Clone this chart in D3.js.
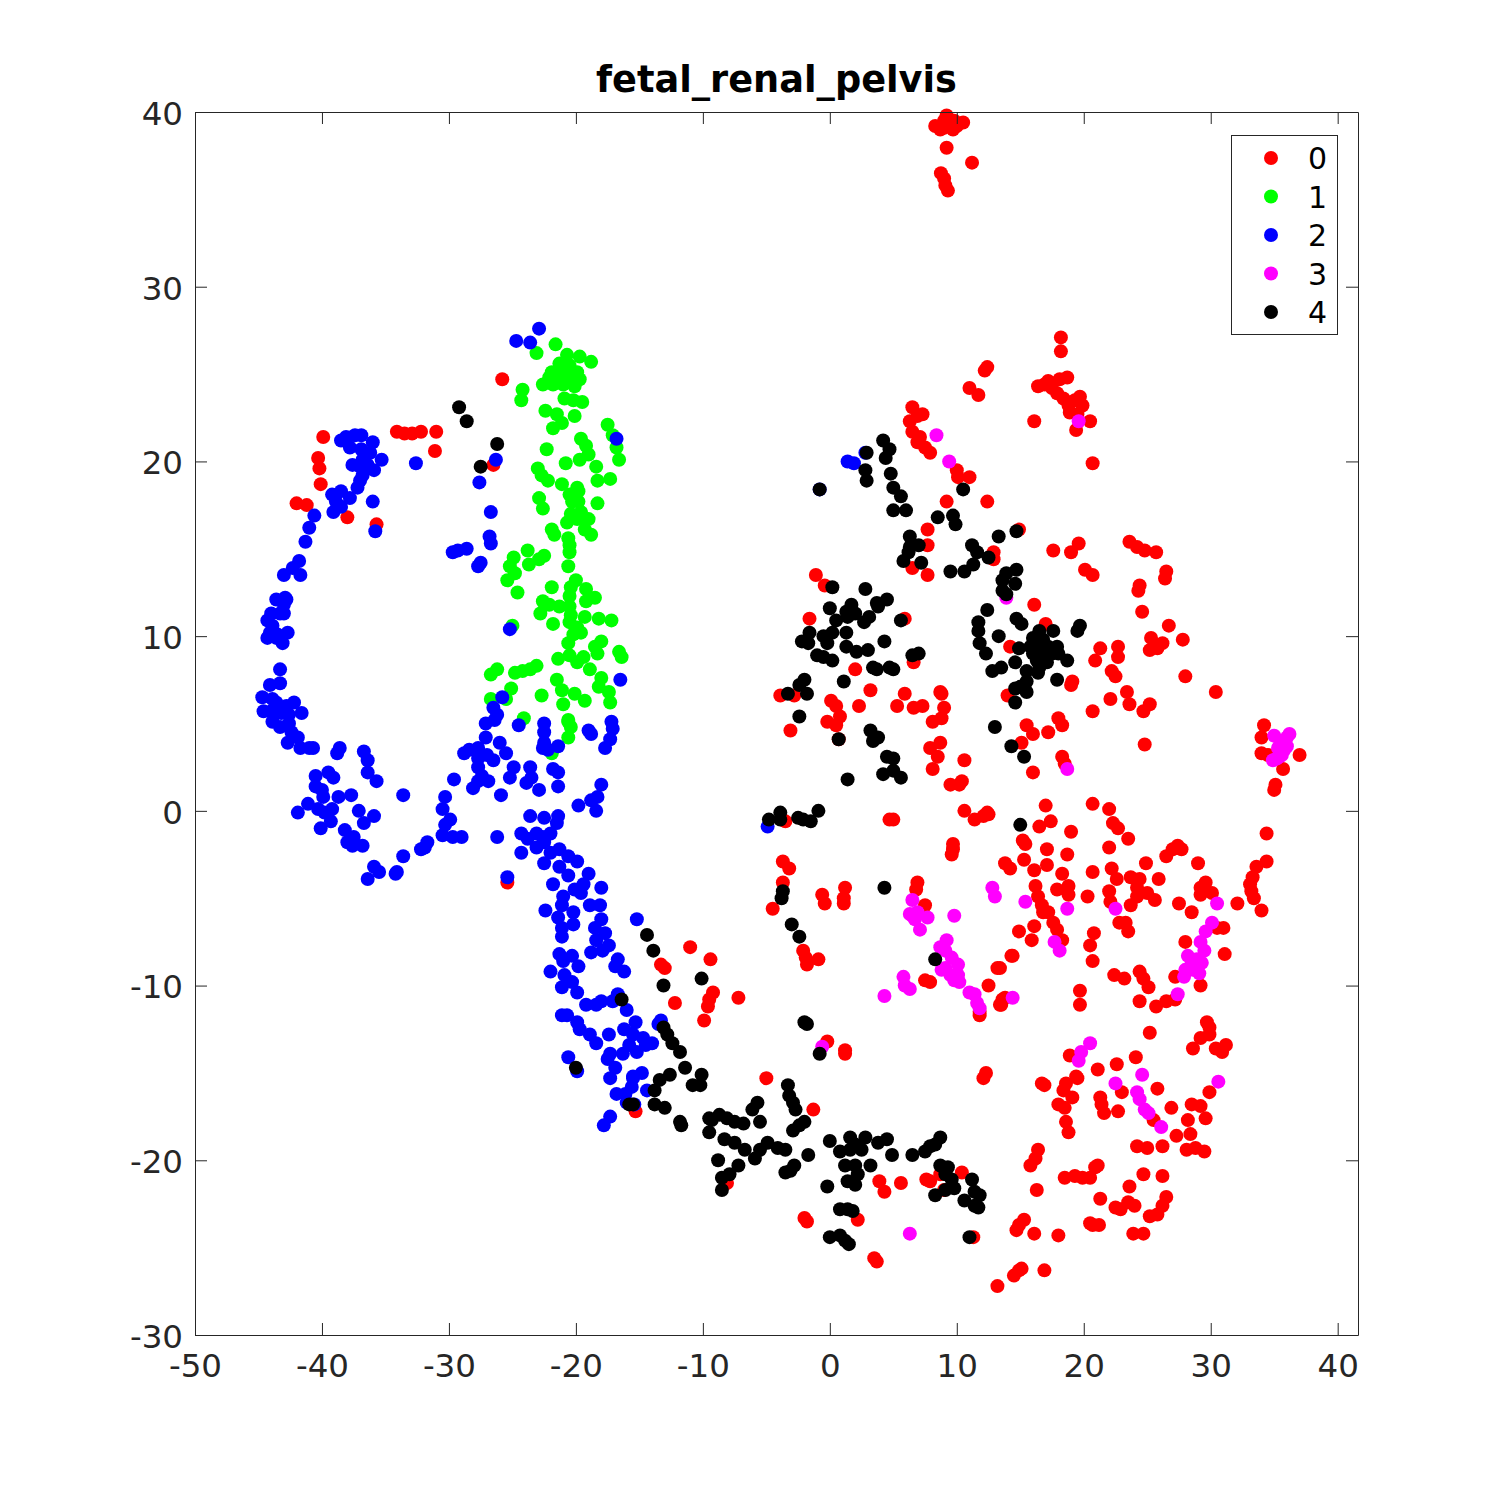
<!DOCTYPE html>
<html><head><meta charset="utf-8">
<script src="https://cdn.jsdelivr.net/npm/d3@7/dist/d3.min.js"></script>
<style>html,body{margin:0;padding:0;background:#fff}svg{display:block}</style>
</head><body><svg id="c" width="1500" height="1500"></svg>
<script>
const chartTitle = "fetal_renal_pelvis";
const xTicks = [-50,-40,-30,-20,-10,0,10,20,30,40];
const yTicks = [-30,-20,-10,0,10,20,30,40];
const xDomain = [-50,41.6];
const yDomain = [-30,40];
const labels = ["0","1","2","3","4"];
const colors = ["#ff0000","#00ff00","#0000ff","#ff00ff","#000000"];
const cluster0 = [[-25.8,24.7],[-39.9,21.4],[-40.3,20.2],[-40.2,19.6],[-40.1,18.7],[-42,17.6],[-41.2,17.5],[-38,16.8],[-35.7,16.4],[-34.1,21.7],[-33.5,21.6],[-32.9,21.6],[-32.2,21.7],[-31,21.7],[-31.1,20.6],[-26.5,19.8],[-25.4,-4.1],
[8.3,39.2],[8.7,39],[9,39.5],[9.2,39.8],[9.5,39.3],[9.8,39.5],[10.5,39.4],[9,39.1],[9.7,39],[10,39.2],[9.2,37.95],[11.2,37.1],[8.75,36.5],[9,36.2],[9.1,35.8],[9.3,35.5],
[12.4,25.4],[12.2,25.2],[11,24.2],[11.7,23.8],[18.2,27.1],[18.2,26.3],[18.7,24.8],[18.1,24.7],[17.2,24.6],[16.4,24.3],[16.9,24.4],[17.5,24.2],[17.9,23.9],[18.4,23.6],[18.8,23.2],[19.3,23.5],[19.7,23.7],[19.9,23.2],[18.9,22.8],[19.5,22.7],[16.1,22.3],[20.5,22.3],[19.4,21.8],[20.7,19.9],
[6.5,23.1],[7.3,22.7],[6.3,22.3],[6.9,22.6],[6.5,21.7],[7.1,21.4],[6.9,21.1],[7.5,20.8],[7.9,20.5],[10,19.5],[10.1,19.1],[11,19.1],[9.2,17.7],[12.4,17.7],[7.7,16.1],[7.7,15.2],[6.5,13.9],[7.7,13.5],[14.9,16.1],[12.9,14.8],[12.9,14.4],[17.6,14.9],[19.6,15.3],[19,14.8],[20.1,13.8],[20.7,13.5],[-1.1,13.5],[-0.4,12.9],[16.1,11.8],[17,10.7],[5.9,11],[-1.6,11],[14.2,9.4],[21.3,9.3],[20.9,8.6],[6.6,8.5],[2,8.1],[19.1,7.4],[19,7.2],[14,6.6],[-3.9,6.6],[-2.8,6.6],[3.2,6.9],[5.9,6.7],[8.7,6.8],[8.8,6.7],[5.3,6],[2.3,6],[6.6,5.9],[7.3,6],[9,5.9],[0.1,6.3],[0.5,6],[0.8,5.4],[8.1,5.1],[8.8,5.3],[-0.2,5.1],[0.5,4.9],[-3.1,4.6],[0.7,4.1],[7.9,3.6],[8.7,3.9],[8.5,3.1],[10.6,2.9],[8.1,2.4],[9.5,1.5],[10.2,1.5],[10.4,1.7],[15.5,4.9],[16,4.4],[15.1,3.9],[17.2,4.5],[18,5.3],[18.3,4.9],[18.3,3.1],[18.5,2.7],[16,2.2],[20.7,5.7],[17,0.3],[20.7,0.4],[10.6,0],[12.4,-0.1],
[23.6,15.4],[24.2,15.1],[24.8,14.9],[25.7,14.8],[24.4,12.9],[24.3,12.6],[24.6,11.4],[26.5,13.7],[26.4,13.3],[26.7,10.6],[27.8,9.8],[25.3,9.9],[25.2,9.2],[25.8,9.3],[26.2,9.6],[28,7.7],[30.4,6.8],[22.7,9.4],[22.7,8.8],[22.2,8],[22.5,7.7],[23.4,6.8],[23.6,6.1],[22.1,6.4],[25.2,6.1],[24.7,5.7],[24.8,3.8],
[34.2,4.9],[34,4.2],[34,3.3],[34.5,3.2],[37,3.2],[35.7,2.4],[35.1,1.5],[35,1.2],
[22,0.1],[17.4,-0.6],[16.5,-0.9],[22.3,-0.7],[22.7,-1],[23.5,-1.6],[19,-1.2],[15.2,-1.7],[15.4,-1.9],[22,-2.1],[17.1,-2.2],[18.7,-2.5],[15.3,-2.8],[17.1,-3.1],[13.8,-3],[14.2,-3.3],[16.1,-3.4],[18.3,-3.6],[20.7,-3.5],[22.2,-3.3],[22.6,-3.9],[23.7,-3.8],[24.4,-3.9],[24.9,-3],[25.9,-3.9],[26.5,-2.6],[27,-2.2],[27.4,-2],[27.7,-2.2],[29,-3],[34.4,-1.3],[34.4,-2.9],[33.6,-3.2],[33.3,-3.8],[33.1,-4.2],[33.2,-4.6],[33.4,-5],[32.1,-5.3],[34,-5.7],[29.6,-4.1],[29.2,-4.8],[29.2,-4.4],[30.1,-4.7],[27.5,-5.3],[28.5,-5.8],[16.2,-4.3],[17.9,-4.5],[18.8,-4.3],[18.8,-4.8],[20.3,-4.9],[22,-4.6],[22.1,-5.2],[16.4,-4.9],[16.7,-5.4],[16.8,-5.8],[17.2,-5.8],[17.6,-6.4],[17.9,-6.8],[24.2,-4.4],[25,-4.7],[25.6,-5.1],[24.2,-4.9],[23.7,-5.4],[16.1,-6.6],[14.9,-6.9],[15.9,-7.4],[18.3,-7.4],[22.8,-6.4],[23.3,-6.4],[23.5,-6.9],[20.8,-7],[20.5,-7.7],[20.7,-8.6],[14.4,-8.3],[13.4,-9],[31,-6.7],[30.5,-6.7],[28,-7.5],[31.1,-8.2],[22.4,-9.4],[23.2,-9.6],[24.4,-9.2],[24.7,-9.6],[25.1,-10.1],[27.2,-9.5],[29.2,-10],[19.7,-10.3],[19.7,-11.1],[24.4,-10.9],[25.7,-11.2],[26.5,-10.9],[27.2,-10.8],[13.8,-10.7],[13.5,-11.1],[29.7,-12.1],[29.9,-12.4],[29.9,-12.8],[29.2,-13],[28.6,-13.6],[25.2,-12.7],[30.4,-13.6],[31.2,-13.4],[30.9,-13.8],[24.1,-14.1],[22.6,-14.5],[21.1,-14.8],[18.9,-14],[19.4,-15.2],[16.7,-15.6],[16.9,-15.7],[19.5,-15.3],[18.6,-15.6],[18.4,-16],[19.1,-16.4],[18,-16.8],[18.5,-17],[18.6,-17.8],[18.8,-18.4],[21.3,-16.4],[21.4,-16.8],[21.6,-17.3],[23,-16.1],[22.7,-17.2],[25.8,-15.9],[25.5,-17.7],[26.9,-17],[24.2,-19.2],[25,-19.3],[26.2,-19.2],[27.3,-18.6],[28.5,-16.8],[29.2,-16.9],[28.4,-18.5],[28.1,-19.4],[28.8,-19.3],[29.5,-19.5],[28.2,-17.7],[29.6,-17.6],[29.9,-16.1],[16.4,-19.4],[16.2,-19.9],[15.8,-20.3],[16.3,-21.7],[18.5,-21],[19.3,-20.9],[19.9,-21],[20.9,-20.4],[21.1,-20.3],[20.5,-21],[21.3,-22.2],[24.7,-20.8],[26.2,-20.9],[23.6,-21.5],[23.5,-22.4],[22.5,-22.7],[22.9,-22.8],[24,-22.6],[26.5,-22.1],[26.2,-22.6],[25.8,-23.1],[25.2,-23.2],[23.9,-24.2],[24.7,-24.2],[15.3,-23.4],[14.9,-23.7],[14.7,-24],[16.1,-24.2],[18,-24.3],[20.5,-23.6],[20.7,-23.7],[21.2,-23.7],[14.5,-26.6],[14.9,-26.3],[15.1,-26.2],[16.9,-26.3],[13.2,-27.2],
[12.3,-15],[12.1,-15.3],[-2,-23.3],[-1.8,-23.5],[2.2,-23.4],[3.5,-25.6],[3.7,-25.8],[3.9,-21.2],[4.3,-21.8],[5.6,-21.3],[7.6,-21.1],[7.9,-21.2],[8.7,-20.8],[10.4,-20.7],[9,-21.7],[11.3,-24.4],[-8.1,-21.3],[-1.3,-17.1],[1.2,-13.7],[1.2,-13.9],[-0.2,-13.2],[-5,-15.3],[-15.3,-17.2],[-7.2,-10.7],[-11,-7.8],[-9.4,-8.5],[-9.2,-10.4],[-9.5,-10.8],[-9.6,-11.2],[-9.9,-12],[-13.3,-8.8],[-13,-9],[-12.2,-11],
[-2.1,-8],[-1.9,-8.4],[-1.8,-8.8],[-0.9,-8.5],[-4.5,-5.6],[-3.7,-4.1],[-3.7,-2.9],[-3.2,-3.3],[-0.6,-4.8],[-0.4,-5.3],[1.2,-4.4],[1.1,-5.3],[1.1,-5],[-3.5,-0.6],[4.7,-0.5],[5,-0.5],[6.9,-4.1],[6.8,-4.5],[7.5,-5.4],[9.7,-1.9],[9.6,-2.5],[9.7,-2.2],[11.4,-0.5],[12.1,-0.3],[12.5,-0.2],[7.5,-9.7],[7.9,-9.8],[11.8,-11.5],[11.8,-11.7],[13.2,-9],[12.5,-10],[13.4,-11.1],[13.6,-10.8],[14.3,-8.3]];
const cluster1 = [[-21.6,26.7],[-23.1,26.2],[-20.7,26.1],[-19.7,26],[-18.8,25.7],[-21.3,25.6],[-20.5,25.5],[-21.9,25.1],[-21,25.1],[-19.9,25.1],[-22.1,24.8],[-21.4,24.8],[-20.6,24.8],[-19.7,24.7],[-22.6,24.4],[-21.8,24.4],[-21,24.4],[-20.1,24.3],[-24.2,24.1],[-24.3,23.5],[-20.9,23.6],[-20.2,23.5],[-19.5,23.4],[-22.4,22.9],[-21.5,22.7],[-20.1,22.6],[-21.1,22.2],[-21.8,21.9],[-17.5,22.1],[-17.1,21.5],[-19.6,21.3],[-19.2,20.9],[-19,20.4],[-22.3,20.7],[-19.7,20.1],[-16.8,20.8],[-16.6,20.1],[-20.8,19.9],[-23,19.6],[-18.4,19.7],[-22.7,19.2],[-22.2,18.9],[-18.3,18.9],[-17.3,19],[-21.1,18.7],[-19.9,18.5],[-20.5,18.1],[-19.8,18.3],[-20.3,17.7],[-19.8,17.7],[-22.9,17.9],[-22.6,17.3],[-18.3,17.6],[-20.4,17],[-19.6,17.1],[-19,16.7],[-20.7,16.5],[-19.9,16.7],[-19.3,16.1],[-18.8,15.8],[-21.9,16.1],[-21.7,15.8],[-20.6,15.6],[-20.5,15.2],[-20.5,14.8],[-20.6,14],[-23.8,14.9],[-22.5,14.6],[-22.9,14.4],[-24.9,14.5],[-23.7,14.1],[-25.2,14],[-24.8,13.6],[-25.4,13.2],[-24.6,12.5],[-20,13.2],[-20.4,12.8],[-21.9,12.8],[-19.2,12.7],[-20.5,12.3],[-18.5,12.2],[-19.2,12],[-22.6,12],[-22.1,11.8],[-21.3,11.7],[-22.8,11.3],[-20.5,11.7],[-20.4,11.2],[-20.5,10.8],[-19.3,11.1],[-18.2,11],[-17.2,10.9],[-21.8,10.7],[-19.9,10.5],[-19.6,10.2],[-20.2,10.1],[-20.6,9.6],[-18,9.7],[-18.5,9.4],[-16.6,9.1],[-18.3,9],[-16.4,8.8],[-20.5,8.9],[-19.4,8.8],[-21.4,8.7],[-19.9,8.5],[-18.9,8.1],[-23.1,8.3],[-23.6,8.1],[-24.2,8],[-24.8,7.9],[-26.2,8.1],[-26.7,7.8],[-21.5,7.5],[-18,7.6],[-18.2,7.1],[-21.1,6.9],[-20.1,6.7],[-25.1,7],[-17.4,6.8],[-17.3,6.2],[-22.7,6.6],[-19.3,6.3],[-21,6.1],[-26.7,6.4],[-25.5,6.4],[-24.1,5.3],[-20.6,5.2],[-20.6,5.1],[-20.4,4.8],[-20.6,4.2],[-21.9,3.3],[-25,10.6]];
const cluster2 = [[-22.9,27.6],[-24.7,26.9],[-23.6,26.8],[-16.8,21.3],[-38.5,21.2],[-38.1,21.4],[-37.4,21.5],[-36.9,21.5],[-37.8,20.8],[-36,21.1],[-36.9,20.7],[-36.2,20.5],[-35.3,20.1],[-37.6,19.8],[-36.8,20.1],[-37,19.7],[-35.9,19.5],[-36.4,19.8],[-36.8,19.2],[-37,18.9],[-37.2,18.5],[-32.6,19.9],[-36,17.7],[-38.5,18.3],[-39.2,18.1],[-37.8,17.9],[-38.9,17.7],[-38.5,17.4],[-39.1,17.1],[-35.8,16],[-40.6,16.9],[-41,16.2],[-41.3,15.4],[-41.8,14.3],[-43,13.5],[-41.7,13.5],[-42.3,13.9],[-43.6,12.1],[-42.9,12.2],[-42.8,12.1],[-43,11.8],[-43.3,11.3],[-44,11.3],[-43,11.3],[-44.3,10.9],[-43.9,10.6],[-44.1,10.2],[-44.3,9.9],[-43.5,10.1],[-42.7,10.2],[-43.1,9.6],[-43.6,9.9],[-43.3,8.1],[-44.1,7.2],[-43.3,7.3],[-44.7,6.5],[-43.9,6.4],[-43.6,6.2],[-42.2,6.2],[-42.8,6],[-44.6,5.7],[-44,5.7],[-41.6,5.6],[-42.6,5.5],[-43.2,5.6],[-43.9,5.1],[-42.6,5],[-43.3,4.8],[-25.8,6.5],[-26.5,5.9],[-26.2,5.5],[-27.1,5],[-26.4,5.2],[-24.5,4.9],[-22.5,5],[-17.2,5.1],[-19,4.6],[-16.5,7.5],
[-26.3,20.1],[-27.6,18.8],[-26.7,17.1],[-26.8,15.7],[-26.7,15.3],[-29.7,14.8],[-29.3,14.9],[-28.6,15],[-27.5,14.2],[-27.7,14],[-25.2,10.4],
[-42.4,4.5],[-41.9,4.2],[-42.7,3.9],[-41.7,3.6],[-40.7,3.6],[-41,3.6],[-38.6,3.6],[-38.8,3.3],[-36.7,3.4],[-36.4,2.9],[-36.4,2.2],[-35.7,1.7],[-40.5,2],[-39.5,2.2],[-39.1,1.9],[-40.5,1.4],[-40,1.2],[-39.9,0.8],[-38.7,0.8],[-37.7,0.9],[-33.6,0.9],[-41.1,0.4],[-41.9,-0.1],[-40.3,0.1],[-39.2,0.1],[-39.8,-0.1],[-39.3,-0.6],[-40.1,-1],[-37.1,0],[-35.9,-0.3],[-36.7,-0.7],[-38.2,-1.1],[-37.5,-1.5],[-38,-1.8],[-37.6,-2],[-36.8,-2],[-35.9,-3.2],[-35.5,-3.5],[-34.2,-3.6],[-34.1,-3.5],[-36.4,-3.9],[-33.6,-2.6],[-31.7,-1.8],[-31.9,-2.1],[-32.2,-2.2],[-30.5,-1.4],[-29.7,-1.5],[-29,-1.5],[-30.3,-0.8],[-29.9,-0.5],[-30.5,0.1],[-30.3,0.8],[-29.6,1.8],[-28.1,1.3],[-27.7,1.7],[-26.9,1.7],[-25.9,0.9],[-25.2,1.9],[-24.9,2.5],[-23.9,1.6],[-23.6,2.5],[-23.5,1.9],[-22.9,1.2],[-21.8,2.4],[-21.4,2.2],[-21.4,1.4],[-18,1.5],[-18.3,0.8],[-18.8,0.6],[-19.8,0.3],[-18.4,0],[-27.7,3],[-28.8,3.3],[-28.4,3.5],[-27.7,3.6],[-27,3.2],[-26.5,2.9],[-27.7,2.5],[-27.4,2],[-27.1,4.2],[-26,3.9],[-25.5,3.3],[-22.5,4.5],[-22.5,3.9],[-22.6,3.6],[-22.2,3.5],[-21.4,3.7],[-17.1,4.7],[-18.8,4.4],[-17.3,4.1],[-17.7,3.6],[-23.6,-0.3],[-22.5,-0.4],[-21.4,-0.3],[-21.5,-0.7],[-24.3,-1.3],[-23.1,-1.3],[-22,-1.3],[-23.8,-1.6],[-22.6,-1.5],[-23.1,-2.1],[-22.5,-1.8],[-26.2,-1.5],[-24.3,-2.4],[-21.3,-2.2],[-22,-2.4],[-22.5,-3],[-20.6,-2.6],[-19.9,-2.9],[-21.3,-3.2],[-20.6,-3.7],[-19,-3.6],[-25.4,-3.8],[-21.8,-4.2],[-18,-4.4],[-19.4,-4.2],[-20.1,-4.5],[-19.6,-4.7],[-21,-4.9],[-21.1,-5.4],[-22.4,-5.7],[-18.9,-5.4],[-18.1,-5.4],[-18,-6.2],[-20.2,-5.8],[-21.4,-6.1],[-20.2,-6.5],[-21.1,-6.7],[-21.1,-7.2],[-18.5,-6.7],[-17.7,-7],[-18.4,-7.4],[-17.4,-7.7],[-17.9,-8],[-18.8,-8.1],[-15.2,-6.2],[-21.3,-8.2],[-20.3,-8.3],[-21,-8.6],[-19.8,-8.9],[-22,-9.2],[-20.9,-9.4],[-20.3,-9.8],[-21.1,-10.1],[-19.9,-10.4],[-16.7,-8.5],[-16.9,-8.9],[-16.2,-9.2],[-16.7,-10.5],[-17.1,-10.9],[-19.2,-11.1],[-18.4,-11.1],[-18,-10.9],[-16,-11.4],[-21.1,-11.7],[-20.7,-11.7],[-19.9,-12.1],[-15.3,-12.1],[-19.7,-12.5],[-18.9,-12.8],[-17.4,-12.8],[-16.2,-12.5],[-15.5,-12.8],[-14.7,-13],[-18.4,-13.3],[-15.8,-13.4],[-15.2,-13.8],[-16.3,-13.9],[-17.3,-13.9],[-17.5,-14.2],[-20.6,-14.1],[-19.9,-14.9],[-16.9,-14.7],[-17.3,-15.3],[-15.5,-15.2],[-15.6,-15.8],[-16.8,-16.2],[-16,-16.7],[-17.3,-17.5],[-14.4,-16],[-14.5,-13.4],[-15.5,-15.3],[-15.4,-16.8],[-14.8,-15],[-14,-13.3],[-17.8,-18],[-16.1,-16.2],[-13.3,-12],[-13.5,-12.2],[-4.9,-0.9],[1.4,20],[1.9,19.9],[2.8,20.5],[-0.8,18.4]];
const cluster3 = [[35,4.3],[35.5,3.9],[36,4.2],[36.2,4.4],[35.3,3.6],[35.8,3.5],[35.4,3.1],[34.9,2.9],[35.2,3],[36,3.7],[35.7,4],[35.6,3.2],
[15.4,-5.2],[18.7,-5.6],[22.5,-5.6],[30.5,-5.3],[30.1,-6.4],[29.6,-6.9],[29.2,-7.5],[29.5,-8],[28.2,-8.3],[29.3,-8.7],[28.5,-8.7],[28.9,-8.5],[28,-9.1],[28.6,-9.1],[29.1,-9.3],[27.9,-9.5],[27.4,-10.5],[17.7,-7.5],[18.1,-8],[14.4,-10.7],[20.5,-13.3],[19.8,-13.8],[19.6,-14.3],[22.5,-15.6],[24.6,-15.1],[30.6,-15.5],
[6.5,-5.1],[6.5,-6],[6.9,-5.8],[6.3,-5.9],[6.7,-6.2],[7.1,-6.8],[7.7,-6.1],[4.3,-10.6],[5.8,-9.5],[5.9,-10],[6.3,-10.2],[9.2,-7.4],[8.7,-7.8],[9.1,-8],[9.6,-8.4],[8.8,-9.1],[9.5,-9.4],[10.1,-8.8],[10.1,-9.4],[9.1,-9],[10.2,-9.8],[11,-10.4],[11.4,-10.5],[11.6,-11],[11.8,-11.3],[9.8,-9.7],[12.8,-4.4],[13,-4.9],[9.8,-6],
[8.4,21.5],[9.4,20],[13.9,12.2],[18.7,2.4],[19.6,22.3],[-0.6,-13.5],[6.3,-24.2],[26.1,-18.1],[24.2,-16.1],[24.4,-16.5],[24.8,-17.1],[25.1,-17.3]];
const cluster4 = [[-29.2,23.1],[-28.6,22.3],[-26.2,21],[-27.5,19.7],
[4.2,21.2],[4.7,20.7],[4.4,20.2],[2.9,20.5],[2.8,19.5],[2.9,18.9],[4.8,19.3],[5,18.5],[5.6,18],[5,17.2],[6,17.2],[-0.8,18.4],[10.5,18.4],[8.5,16.8],[9.7,16.9],[9.9,16.4],[6.3,15.7],[7,15.2],[6.3,15.1],[6.2,14.8],[5.8,14.3],[7.2,14.2],[9.5,13.7],[10.6,13.7],[11.3,14.1],[11.2,15.2],[11.6,14.8],[12.5,14.5],[13.3,15.7],[14.7,16],[14.7,13.8],[13.9,13.6],[13.6,13.2],[14.6,13],[13.6,12.6],[13.9,12.4],[0.2,12.8],[2.8,12.7],[3.7,11.9],[4.5,12.1],[3.8,11.7],[1.7,11.8],[0,11.6],[1.3,11.4],[2,11.3],[0.5,10.9],[1.4,11.1],[3.1,11.1],[2.7,10.8],[5.6,10.9],[1.3,10.2],[0.2,10.2],[-1.6,10.2],[-0.5,10],[-2.2,9.7],[-1.7,9.6],[-0.2,9.6],[1.3,9.4],[4.3,9.7],[3,9.2],[2.1,9.1],[-1,8.9],[-0.5,8.8],[0.2,8.6],[3.4,8.2],[3.7,8.1],[4.7,8.2],[5,8.1],[6.5,8.9],[7,9],[-2,7.5],[-2.4,7.2],[-3.3,6.7],[-1.8,6.7],[1.1,7.4],[-2.4,5.4],[0.7,4.1],[3.2,4.6],[3.8,4.2],[3.4,4],[4.5,3.1],[5,3],[4.2,2.1],[5,2.3],[5.6,1.9],[1.4,1.8],[13,4.8],[14.3,3.7],[15.3,3.1],[12.4,11.5],[14.7,11],[15.1,10.7],[11.7,10.8],[11.7,10.3],[13.3,10],[11.8,9.6],[12.3,9],[14.6,8.5],[12.8,8],[13.5,8.2],[17.6,10.3],[19.7,10.6],[19.5,10.3],
[16.5,10.3],[16,9.9],[16.8,9.8],[15.8,9.4],[16.3,9.5],[17.2,9.4],[17.9,9.4],[14.9,9.3],[16,9],[16.7,9],[17.5,9],[18,9],[18.7,8.6],[16.3,8.6],[17.1,8.5],[16.5,8.2],[15.5,8],[16.4,7.9],[17.9,7.5],[15.5,7.4],[14.6,7],[15.5,6.8],[15,7.1],[14.6,6.2],
[-4.8,-0.5],[-3.9,-0.1],[-3.9,-0.5],[-2.5,-0.4],[-2.1,-0.5],[-1.5,-0.6],[-0.9,0],[15,-0.8],[4.3,-4.4],[-3.7,-4.6],[-3.8,-5],[-3,-6.5],[-2.4,-7.2],[8.3,-8.5],
[-14.4,-7.1],[-13.9,-8],[-13.1,-10],[-13.1,-12.4],[-12.8,-12.8],[-12.4,-13.3],[-11.8,-13.8],[-10.1,-9.6],[-16.4,-10.8],[-20,-14.7],[-15.5,-16.8],[-15.8,-16.8],[-13.4,-15.4],[-12.6,-15.1],[-13.8,-16],[-13.8,-16.8],[-13,-17],[-11.8,-17.8],[-11.7,-18],[-11.4,-14.7],[-10.8,-15.7],[-10.1,-15.1],[-10.2,-15.7],[-9.5,-17.6],[-9.3,-17.7],[-9.5,-18.4],[-8.7,-17.4],[-8.1,-17.6],[-7.5,-17.8],[-6.8,-17.9],[-5.7,-16.7],[-6.1,-17.1],[-8.3,-18.8],[-7.5,-19],[-8.8,-20],[-8.5,-21],[-8.5,-21.7],[-7.9,-20.8],[-7.2,-20.3],[-6.7,-19.4],[-5.9,-19.9],[-5.5,-19.4],[-4.9,-19],[-4.1,-19.3],[-3.5,-19.4],[-5.5,-17.8],[-3.3,-15.7],[-3.2,-16.3],[-2.9,-16.7],[-2.7,-17.1],[-2.4,-18],[-2.9,-18.3],[-2,-17.8],[-1.7,-19.7],[-2.8,-20.3],[-3.5,-20.7],[-3.1,-20.6],[-2,-12.1],[-1.8,-12.2],[-0.8,-13.9],
[0,-18.9],[1.6,-18.7],[2.8,-18.7],[3.8,-19],[4.5,-18.8],[4.9,-19.7],[0.8,-19.5],[1.6,-19.4],[2,-19.1],[2.5,-19.4],[3.2,-20.3],[1.2,-20.3],[2,-20.3],[2.2,-20.8],[1.4,-21.2],[2,-21.4],[-0.2,-21.5],[0.8,-22.8],[1.4,-22.8],[1.8,-22.9],[0,-24.4],[0.8,-24.3],[1.2,-24.6],[1.5,-24.8],
[6.5,-19.7],[7.5,-19.5],[7.9,-19.2],[8.7,-18.7],[8.3,-19.1],[8.7,-20.3],[9.3,-20.4],[9.1,-20.8],[9.6,-21.1],[9.8,-21.6],[8.3,-22],[9.1,-21.7],[10.6,-22.3],[11.2,-21.1],[11.4,-21.8],[11.8,-22],[11.4,-22.6],[11.7,-22.7],[11,-24.4]];
const series = [cluster0,cluster1,cluster2,cluster3,cluster4];

const svg = d3.select("#c");
const FONT = "'DejaVu Sans',sans-serif";
const mLeft=195,mRight=1358,mTop=112,mBottom=1335,R=7,TL=12,INK="#262626";
const x = d3.scaleLinear().domain(xDomain).range([mLeft,mRight]);
const y = d3.scaleLinear().domain(yDomain).range([mBottom,mTop]);

series.forEach((pts,i)=>{
  svg.append("g").selectAll("circle").data(pts).join("circle")
    .attr("cx",d=>x(d[0])).attr("cy",d=>y(d[1])).attr("r",R).attr("fill",colors[i]);
});

function style(g,showText){
  g.select(".domain").attr("stroke",INK).attr("stroke-width",1);
  g.selectAll(".tick line").attr("stroke",INK).attr("stroke-width",1);
  g.selectAll(".tick text").attr("fill",INK).attr("font-family",FONT).attr("font-size",32.5);
  if(!showText) g.selectAll(".tick text").remove();
}
const fmt = d=>String(d);
const bx = svg.append("g").attr("transform",`translate(0,${mBottom})`).call(d3.axisBottom(x).tickValues(xTicks).tickFormat(fmt).tickSize(-TL).tickSizeOuter(0).tickPadding(19));
style(bx,true);
const tx = svg.append("g").attr("transform",`translate(0,${mTop})`).call(d3.axisTop(x).tickValues(xTicks).tickSize(-TL).tickSizeOuter(0));
style(tx,false);
const ly = svg.append("g").attr("transform",`translate(${mLeft},0)`).call(d3.axisLeft(y).tickValues(yTicks).tickFormat(fmt).tickSize(-TL).tickSizeOuter(0).tickPadding(12));
style(ly,true);
ly.selectAll(".tick text").attr("dy","0.38em");
const ry = svg.append("g").attr("transform",`translate(${mRight},0)`).call(d3.axisRight(y).tickValues(yTicks).tickSize(-TL).tickSizeOuter(0));
style(ry,false);

svg.append("text").attr("x",776.5).attr("y",92).attr("text-anchor","middle")
  .attr("font-family",FONT).attr("font-weight","bold").attr("font-size",36.7).attr("fill","#000").text(chartTitle);

const lg = svg.append("g");
lg.append("rect").attr("x",1231.5).attr("y",135.5).attr("width",106).attr("height",199)
  .attr("fill","#fff").attr("stroke",INK).attr("stroke-width",1);
const ly0=158, lStep=38.5;
labels.forEach((t,i)=>{
  lg.append("circle").attr("cx",1271).attr("cy",ly0+i*lStep).attr("r",R).attr("fill",colors[i]);
  lg.append("text").attr("x",1308).attr("y",ly0+i*lStep+11).attr("font-family",FONT)
    .attr("font-size",30).attr("fill","#000").text(t);
});
</script></body></html>
